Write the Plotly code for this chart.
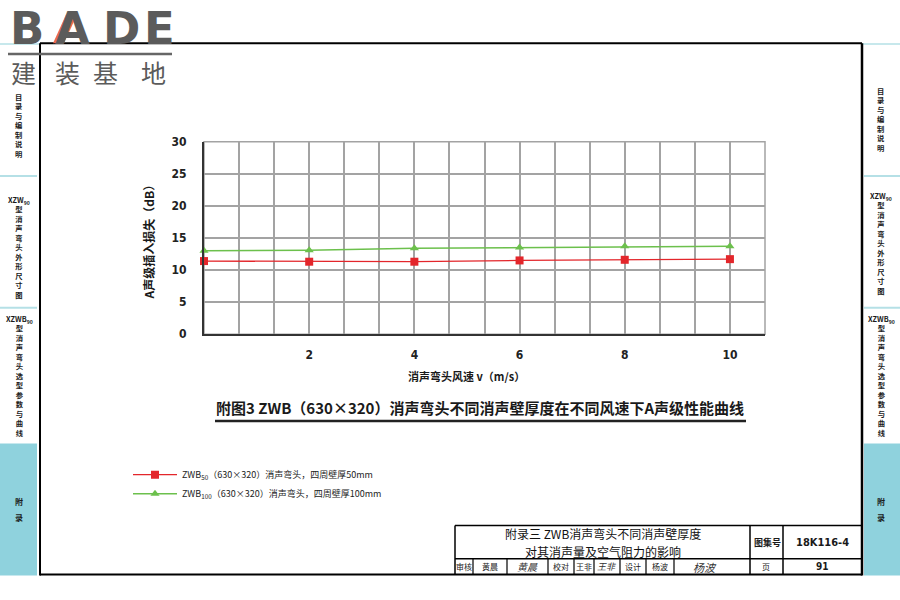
import plotly.graph_objects as go

# ---- data ----
speed = [0, 2, 4, 6, 8, 10]
loss_50 = [11.4, 11.3, 11.3, 11.5, 11.6, 11.7]
loss_100 = [13.0, 13.1, 13.4, 13.5, 13.7, 13.7]
name_50 = "ZWB<sub>50</sub>（630×320）消声弯头，四周壁厚50mm"
name_100 = "ZWB<sub>100</sub>（630×320）消声弯头，四周壁厚100mm"
x_ticks = [2, 4, 6, 8, 10]
y_ticks = [0, 5, 10, 15, 20, 25, 30]

W, H = 900, 600
def px(x): return x / W
def py(y): return 1 - y / H

CJK = "Noto Sans CJK SC"
NARROW = "Liberation Sans Narrow, DejaVu Sans Condensed, Noto Sans CJK SC"

fig = go.Figure()
fig.add_trace(go.Scatter(x=speed, y=loss_50, name=name_50, mode="lines+markers",
                         line=dict(color="#e3262b", width=1.3),
                         marker=dict(symbol="square", size=8, color="#e3262b"),
                         cliponaxis=False))
fig.add_trace(go.Scatter(x=speed, y=loss_100, name=name_100, mode="lines+markers",
                         line=dict(color="#6cc04c", width=1.5),
                         marker=dict(symbol="triangle-up", size=8, color="#6cc04c"),
                         cliponaxis=False))

GRID = "#a3a3a3"
fig.update_layout(
    width=W, height=H, margin=dict(l=0, r=0, t=0, b=0),
    paper_bgcolor="white", plot_bgcolor="white",
    showlegend=True,
    legend=dict(x=px(128), y=py(464), xanchor="left", yanchor="top",
                font=dict(family=CJK, size=9, color="#222"),
                bgcolor="rgba(0,0,0,0)", itemwidth=44, tracegroupgap=0),
    xaxis=dict(domain=[px(204), px(765)], range=[0, 32 / 3],
               tickmode="array", tickvals=x_ticks,
               showgrid=True, gridcolor=GRID, gridwidth=1.5,
               minor=dict(tick0=0, dtick=2 / 3, showgrid=True, gridcolor=GRID, gridwidth=1.5, ticks=""),
               showline=True, linecolor="#333", linewidth=2, zeroline=False,
               ticks="", ticklabelstandoff=8,
               tickfont=dict(family=NARROW, size=12, color="#222", weight="bold")),
    yaxis=dict(domain=[py(335), py(138)], range=[0, 30],
               tickmode="array", tickvals=y_ticks,
               showgrid=True, gridcolor=GRID, gridwidth=1.5,
               showline=True, linecolor="#333", linewidth=2, zeroline=False,
               ticks="", ticklabelstandoff=13,
               tickfont=dict(family=NARROW, size=12, color="#222", weight="bold")),
)

shapes = []
def line(x0, y0, x1, y1, color="black", width=2):
    shapes.append(dict(type="line", xref="paper", yref="paper",
                       x0=px(x0), y0=py(y0), x1=px(x1), y1=py(y1),
                       line=dict(color=color, width=width), layer="above"))
def rect(x0, y0, x1, y1, fill, color=None, width=0, layer="below"):
    shapes.append(dict(type="rect", xref="paper", yref="paper",
                       x0=px(x0), y0=py(y0), x1=px(x1), y1=py(y1),
                       fillcolor=fill, line=dict(color=color or fill, width=width), layer=layer))

# plot border (gray top/right)
shapes.append(dict(type="rect", xref="x domain", yref="y domain", x0=0, y0=0, x1=1, y1=1,
                   line=dict(color=GRID, width=1.5), layer="below"))

TEAL = "#8fd2dd"
TEAL_L = "#b5e0e6"
# sidebars
rect(0, 447, 37, 582, TEAL)
rect(864, 447, 900, 582, TEAL)
for yy in (173, 308):
    line(0, yy, 37, yy, TEAL_L, 2)
    line(864, yy, 900, yy, TEAL_L, 2)
line(0, 38, 40, 38, TEAL_L, 1.5)
line(862, 38, 900, 38, TEAL_L, 1.5)

# page frame
line(40, 37, 862, 37, "black", 2)
line(40, 37, 40, 582, "black", 2)
line(862, 37, 862, 582, "black", 2.5)
line(40, 581, 862, 581, "black", 2)

# title underline
line(215, 424, 746, 424, "#222", 2.5)

# title block
line(455, 531, 862, 531, "black", 1.5)
line(455, 531, 455, 581, "black", 1.5)
line(455, 565, 862, 565, "black", 1.5)
line(750, 531, 750, 581, "black", 1.5)
line(783, 531, 783, 581, "black", 1.5)
for xx in (473, 507, 548, 574, 594, 620, 646, 674):
    line(xx, 565, xx, 581, "black", 1.2)

# logo
line(8, 48, 172, 48, "#666", 2.5)
shapes.append(dict(type="path", xref="paper", yref="paper",
                   path="M {} {} L {} {} L {} {} L {} {} Z".format(
                       px(53), py(37), px(66), py(8), px(77), py(8), px(64), py(37)),
                   fillcolor="#ec6a4c", line=dict(width=0), layer="above"))

fig.update_layout(shapes=shapes)

ann = []
def text(x, y, t, size, family=CJK, color="#1a1a1a", angle=0, xanchor="center", yanchor="middle"):
    ann.append(dict(x=px(x), y=py(y), xref="paper", yref="paper", text=t, showarrow=False,
                    font=dict(family=family, size=size, color=color), textangle=angle,
                    xanchor=xanchor, yanchor=yanchor))

# axis titles and figure title
text(148, 238, "<b>A声级插入损失（dB）</b>", 12, angle=-90)
text(466, 378, "<b>消声弯头风速 v（m/s）</b>", 11)
text(480, 410, "<b>附图3 ZWB（630×320）消声弯头不同消声壁厚度在不同风速下A声级性能曲线</b>", 15)

# title block text
text(603, 539.5, "附录三 ZWB消声弯头不同消声壁厚度", 12, color="#111")
text(603, 557, "对其消声量及空气阻力的影响", 12, color="#111")
text(767, 548, "<b>图集号</b>", 9)
text(822, 548, "<b>18K116-4</b>", 11, family=NARROW)
text(464, 573, "审核", 8)
text(490, 573, "黄晨", 8)
text(527, 573, "<i>黄晨</i>", 10, color="#333")
text(561, 573, "校对", 8)
text(584, 573, "王非", 8)
text(607, 573, "<i>王非</i>", 9, color="#333")
text(633, 573, "设计", 8)
text(660, 573, "杨波", 8)
text(705, 573, "<i>杨波</i>", 11, color="#333")
text(766, 573, "页", 8)
text(822, 573, "<b>91</b>", 10, family=NARROW)

# sidebars
def vstack(s):
    return "<br>".join(list(s))
SB = 7.3
for xs, c1, c2 in ((19, 121, 246), (881, 115, 242)):
    text(xs, c1, "<b>" + vstack("目录与编制说明") + "</b>", SB)
    text(xs, c2, "<b>XZW<sub>90</sub><br>" + vstack("型消声弯头外形尺寸图") + "</b>", SB)
    text(xs, 378, "<b>XZWB<sub>90</sub><br>" + vstack("型消声弯头选型参数与曲线") + "</b>", SB)
    text(xs, 506, "<b>附</b>", 8)
    text(xs, 523, "<b>录</b>", 8)

# logo text
LOGO = "#5b5b5b"
for ch, cx in (("B", 27), ("A", 72), ("D", 121), ("E", 159)):
    text(cx, 22, "<b>" + ch + "</b>", 45, family="DejaVu Sans", color=LOGO)
for ch, cx in (("建", 23), ("装", 67), ("基", 105), ("地", 153)):
    text(cx, 67, ch, 25, color=LOGO)

fig.update_layout(annotations=ann)
fig.write_html("out.html", config={"displayModeBar": False},
               post_script="document.body.style.margin='0';document.body.style.padding='0';")
